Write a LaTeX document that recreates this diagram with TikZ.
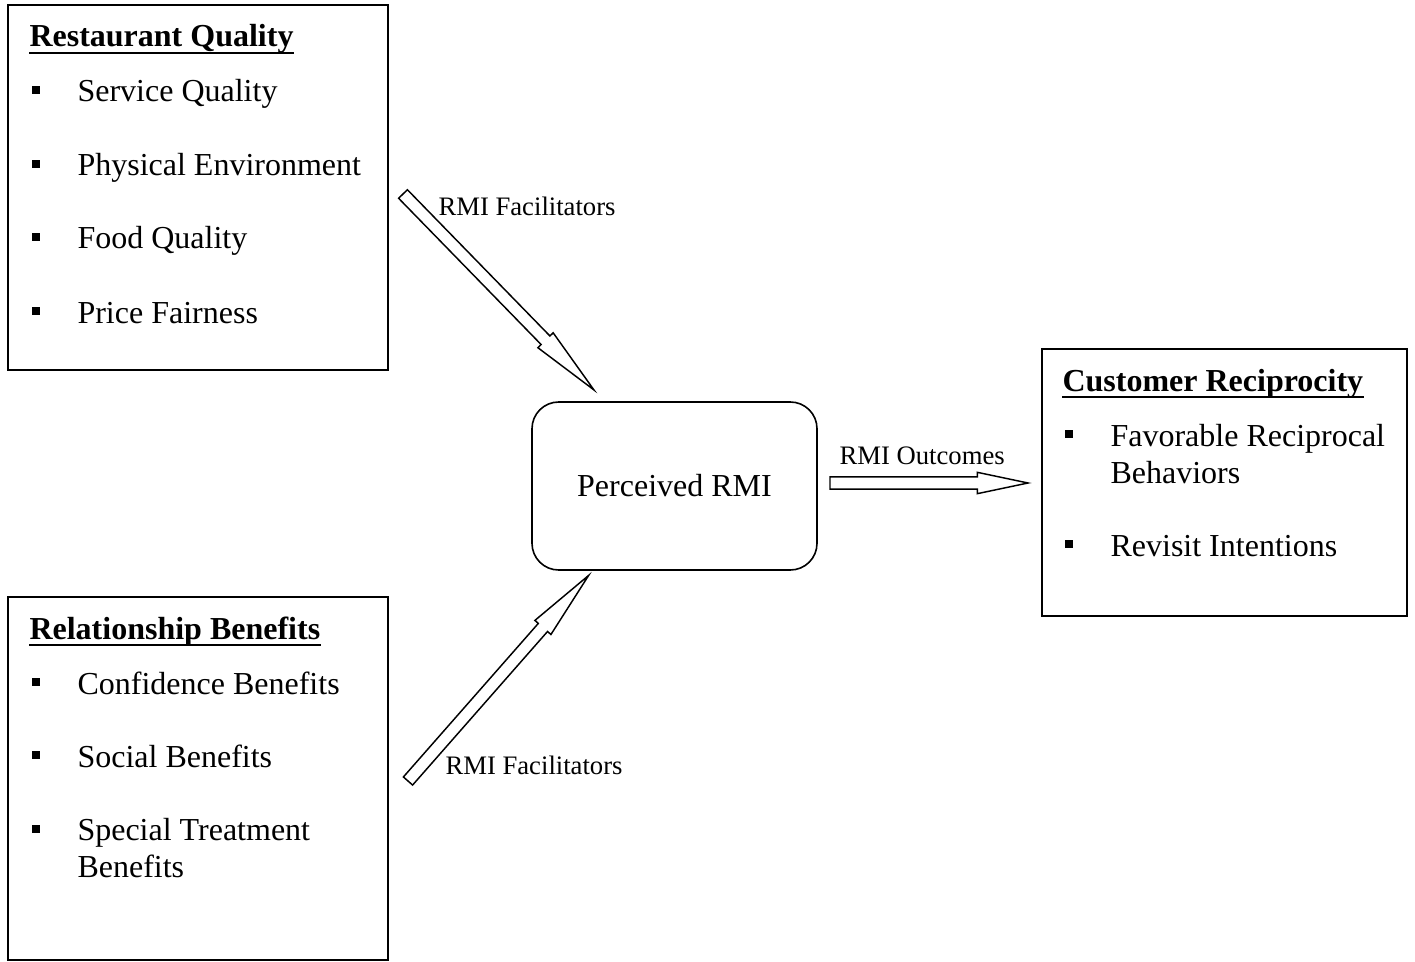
\documentclass[tikz,border=0pt]{standalone}
\usepackage{fontspec}
\setmainfont{Liberation Serif}
\usetikzlibrary{calc}

\begin{document}
\begin{tikzpicture}[x = 0.375pt, y = -0.375pt, font = \fontsize{12}{13.8}\selectfont]
\tikzstyle{boxStyle} = [draw, line width = 0.6pt, inner sep = 0pt]
\tikzstyle{headStyle} = [anchor = base west, inner sep = 0pt, font = \fontsize{12}{13.8}\selectfont\bfseries]
\tikzstyle{itemStyle} = [anchor = base west, inner sep = 0pt, align = left]
\tikzstyle{bulletStyle} = [fill, minimum size = 3.2pt, inner sep = 0pt]
\tikzstyle{labelStyle} = [anchor = base west, inner sep = 0pt, font = \fontsize{10}{11.5}\selectfont]
\tikzstyle{blockArrow} = [draw, line width = 0.55pt, line join = miter, to path = {
  let \p1 = (\tikztostart), \p2 = (\tikztotarget),
      \n1 = {atan2(\y2-\y1, \x2-\x1)}, \n2 = {veclen(\x2-\x1, \y2-\y1)} in
  {[shift = {(\p1)}, rotate = \n1]
    (0pt, -2.3pt) -- (\n2-#1, -2.3pt) -- (\n2-#1, -4pt) -- (\n2, 0pt)
    -- (\n2-#1, 4pt) -- (\n2-#1, 2.3pt) -- (0pt, 2.3pt) -- cycle}}]
\useasboundingbox (0,0) rectangle (1415,962);
% boxes
\node[boxStyle, minimum width = 142.5pt, minimum height = 136.875pt] (rq) at (198,187.5) {};
\node[boxStyle, minimum width = 142.5pt, minimum height = 136.125pt] (rb) at (198,778.5) {};
\node[boxStyle, minimum width = 136.875pt, minimum height = 100.125pt] (cr) at (1224.5,482.5) {};
\node[boxStyle, rounded corners = 10pt, minimum width = 106.875pt, minimum height = 63pt] (rmi) at (674.5,486) {Perceived RMI};
% restaurant quality
\node[headStyle] (rqhead) at (29,47) {Restaurant Quality};
\draw[line width = 0.75pt] ([yshift = -2.4pt]rqhead.base west) -- ([yshift = -2.4pt]rqhead.base east);
\node[bulletStyle] (rqb1) at (36,90) {};
\node[bulletStyle] (rqb2) at (36,164) {};
\node[bulletStyle] (rqb3) at (36,237) {};
\node[bulletStyle] (rqb4) at (36,311) {};
\node[itemStyle] (rqi1) at (77,102) {Service Quality};
\node[itemStyle] (rqi2) at (77,176) {Physical Environment};
\node[itemStyle] (rqi3) at (77,249) {Food Quality};
\node[itemStyle] (rqi4) at (77,323) {Price Fairness};
% relationship benefits
\node[headStyle] (rbhead) at (29,639) {Relationship Benefits};
\draw[line width = 0.75pt] ([yshift = -2.4pt]rbhead.base west) -- ([yshift = -2.4pt]rbhead.base east);
\node[bulletStyle] (rbb1) at (36,682) {};
\node[bulletStyle] (rbb2) at (36,755) {};
\node[bulletStyle] (rbb3) at (36,829) {};
\node[itemStyle] (rbi1) at (77,694) {Confidence Benefits};
\node[itemStyle] (rbi2) at (77,767) {Social Benefits};
\node[itemStyle] (rbi3) at (77,877) {Special Treatment\\Benefits};
% customer reciprocity
\node[headStyle] (crhead) at (1062,391) {Customer Reciprocity};
\draw[line width = 0.75pt] ([yshift = -2.4pt]crhead.base west) -- ([yshift = -2.4pt]crhead.base east);
\node[bulletStyle] (crb1) at (1069,434) {};
\node[bulletStyle] (crb2) at (1069,544) {};
\node[itemStyle] (cri1) at (1110,483) {Favorable Reciprocal\\Behaviors};
\node[itemStyle] (cri2) at (1110,556) {Revisit Intentions};
% arrows
\coordinate (f1tail) at (403,194);
\coordinate (f1tip) at (594,390);
\coordinate (f2tail) at (408,781);
\coordinate (f2tip) at (589,575);
\coordinate (otail) at (830,483);
\coordinate (otip) at (1028,483);
\path[blockArrow = 26pt] (f1tail) to (f1tip);
\path[blockArrow = 26pt] (f2tail) to (f2tip);
\path[blockArrow = 19pt] (otail) to (otip);
\node[labelStyle] (f1label) at (438,216) {RMI Facilitators};
\node[labelStyle] (f2label) at (445,774) {RMI Facilitators};
\node[labelStyle] (olabel) at (839,464) {RMI Outcomes};
\end{tikzpicture}
\end{document}
